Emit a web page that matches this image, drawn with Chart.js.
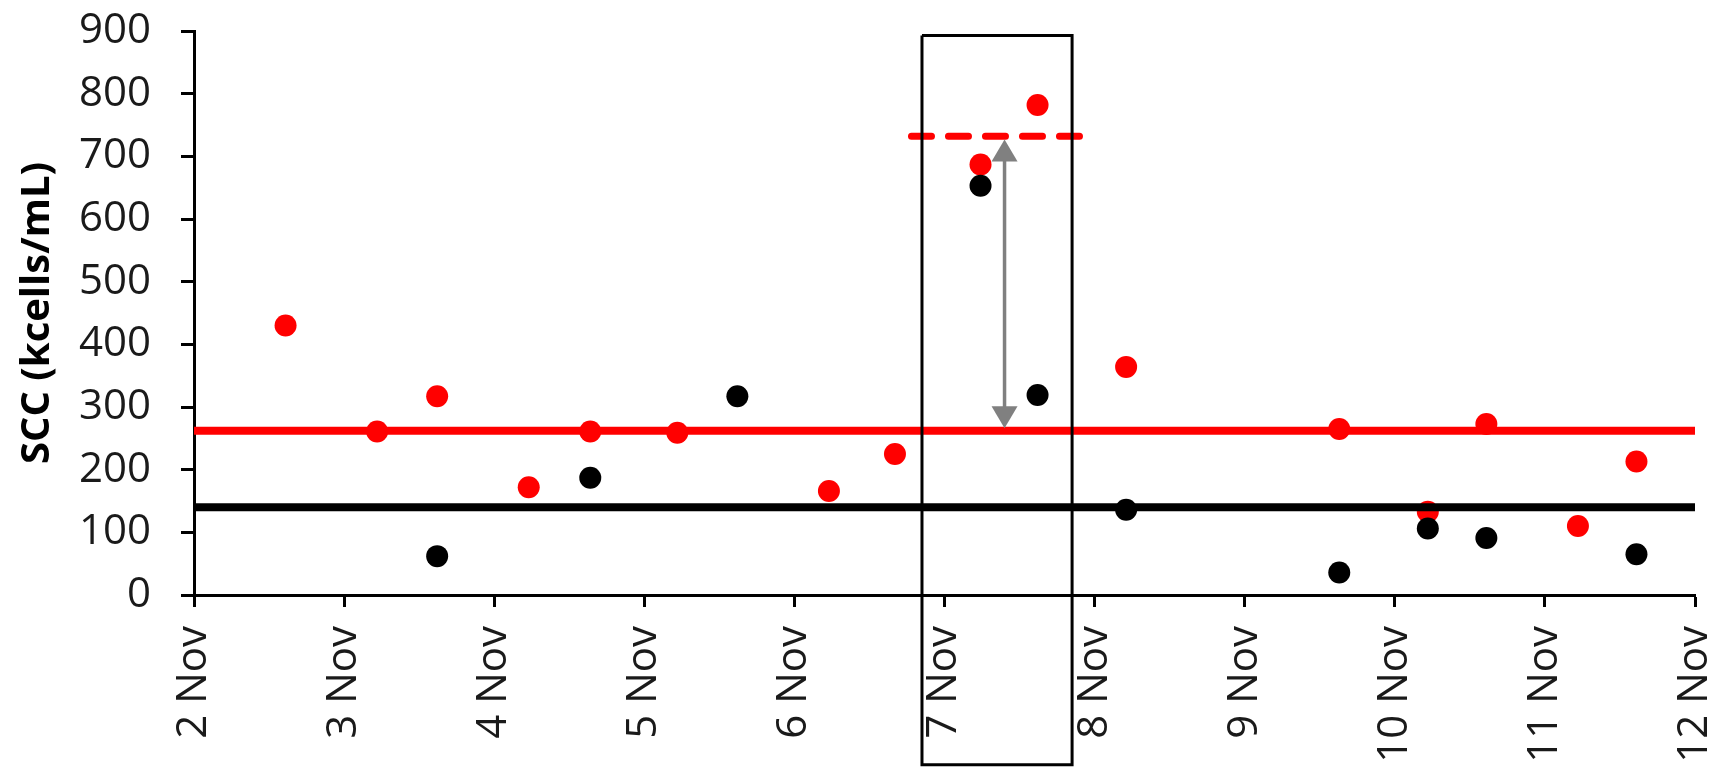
<!DOCTYPE html>
<html>
<head>
<meta charset="utf-8">
<script src="https://cdn.jsdelivr.net/npm/chart.js@4.4.0/dist/chart.umd.min.js"></script>
<style>
  html, body { margin: 0; padding: 0; background: #fff; }
</style>
</head>
<body>
<canvas id="myChart" width="1717" height="767"></canvas>
<script>
// x values are days after 2 Nov
var xTickLabels = ['2 Nov', '3 Nov', '4 Nov', '5 Nov', '6 Nov', '7 Nov', '8 Nov', '9 Nov', '10 Nov', '11 Nov', '12 Nov'];

var redDays = [0.61, 1.22, 1.62, 2.23, 2.64, 3.22, 4.23, 4.67, 5.24, 5.62, 6.21, 7.63, 8.22, 8.61, 9.22, 9.61];
var redScc  = [430, 261, 317, 172, 261, 259, 166, 225, 687, 782, 364, 265, 133, 273, 110, 213];

var blackDays = [1.62, 2.64, 3.62, 5.24, 5.62, 6.21, 7.63, 8.22, 8.61, 9.61];
var blackScc  = [62, 187, 317, 653, 319, 136, 36, 106, 91, 65];

var redMean = 262;
var blackMean = 140;
var peakLevel = 732;
var peakDays = [4.78, 5.93];
var boxDays = [4.85, 5.85];
var boxScc = [893, -271];
var arrowDay = 5.40;
var arrowScc = [266, 727];

function toPoints(xs, ys) {
	var pts = [];
	for (var i = 0; i < xs.length; ++i) {
		pts.push({x: xs[i], y: ys[i]});
	}
	return pts;
}

var arrowPlugin = {
	id: 'arrow',
	afterDatasetsDraw: function(chart) {
		var x = chart.scales.x.getPixelForValue(arrowDay);
		var yLow = chart.scales.y.getPixelForValue(arrowScc[0]);
		var yHigh = chart.scales.y.getPixelForValue(arrowScc[1]);
		var ctx = chart.ctx;
		var hw = 13, hh = 22;
		ctx.save();
		ctx.strokeStyle = '#808080';
		ctx.fillStyle = '#808080';
		ctx.lineWidth = 3.5;
		ctx.beginPath();
		ctx.moveTo(x, yLow - hh + 2);
		ctx.lineTo(x, yHigh + hh - 2);
		ctx.stroke();
		ctx.beginPath();
		ctx.moveTo(x, yHigh);
		ctx.lineTo(x - hw, yHigh + hh);
		ctx.lineTo(x + hw, yHigh + hh);
		ctx.closePath();
		ctx.fill();
		ctx.beginPath();
		ctx.moveTo(x, yLow);
		ctx.lineTo(x - hw, yLow - hh);
		ctx.lineTo(x + hw, yLow - hh);
		ctx.closePath();
		ctx.fill();
		ctx.restore();
	}
};

var lineStyle = {showLine: true, pointRadius: 0, fill: false};

var ctx = document.getElementById('myChart').getContext('2d');
var chart = new Chart(ctx, {
	type: 'scatter',
	data: {
		datasets: [
			Object.assign({
				data: [
					{x: boxDays[0], y: boxScc[0]}, {x: boxDays[1], y: boxScc[0]},
					{x: boxDays[1], y: boxScc[1]}, {x: boxDays[0], y: boxScc[1]},
					{x: boxDays[0], y: boxScc[0]}
				],
				borderColor: '#000', borderWidth: 3, clip: false, borderJoinStyle: 'miter'
			}, lineStyle),
			Object.assign({
				data: [{x: 0, y: redMean}, {x: 10, y: redMean}],
				borderColor: '#ff0000', borderWidth: 8
			}, lineStyle),
			Object.assign({
				data: [{x: 0, y: blackMean}, {x: 10, y: blackMean}],
				borderColor: '#000', borderWidth: 8
			}, lineStyle),
			Object.assign({
				data: [{x: peakDays[0], y: peakLevel}, {x: peakDays[1], y: peakLevel}],
				borderColor: '#ff0000', borderWidth: 7, borderDash: [20, 17], borderCapStyle: 'round', clip: false
			}, lineStyle),
			{
				data: toPoints(blackDays, blackScc),
				backgroundColor: '#000', borderWidth: 0, pointRadius: 11
			},
			{
				data: toPoints(redDays, redScc),
				backgroundColor: '#ff0000', borderWidth: 0, pointRadius: 11
			}
		]
	},
	options: {
		responsive: false,
		animation: false,
		layout: {padding: {top: 31, right: 22, left: 0, bottom: 0}},
		plugins: {legend: {display: false}, tooltip: {enabled: false}},
		scales: {
			x: {
				type: 'linear', min: 0, max: 10,
				afterFit: function(s) { s.height = 172; s.paddingLeft = 0; s.paddingRight = 0; },
				border: {color: '#000', width: 3},
				grid: {drawOnChartArea: false, tickLength: 12, tickColor: '#000', tickWidth: 3},
				ticks: {
					stepSize: 1, autoSkip: false, minRotation: 90, maxRotation: 90, padding: 19,
					color: '#1a1a1a', font: {family: 'Open Sans', size: 42},
					callback: function(v) { return xTickLabels[v]; }
				}
			},
			y: {
				min: 0, max: 900,
				afterFit: function(s) { s.width = 194; s.paddingTop = 0; s.paddingBottom = 0; },
				border: {color: '#000', width: 3},
				grid: {drawOnChartArea: false, tickLength: 13, tickColor: '#000', tickWidth: 3},
				ticks: {stepSize: 100, padding: 30, color: '#1a1a1a', font: {family: 'Open Sans', size: 42}},
				title: {
					display: true, text: 'SCC (kcells/mL)', color: '#000',
					font: {family: 'Open Sans', size: 40, weight: 'bold'},
					padding: {top: 14, bottom: 0}
				}
			}
		}
	},
	plugins: [arrowPlugin]
});
</script>
</body>
</html>
